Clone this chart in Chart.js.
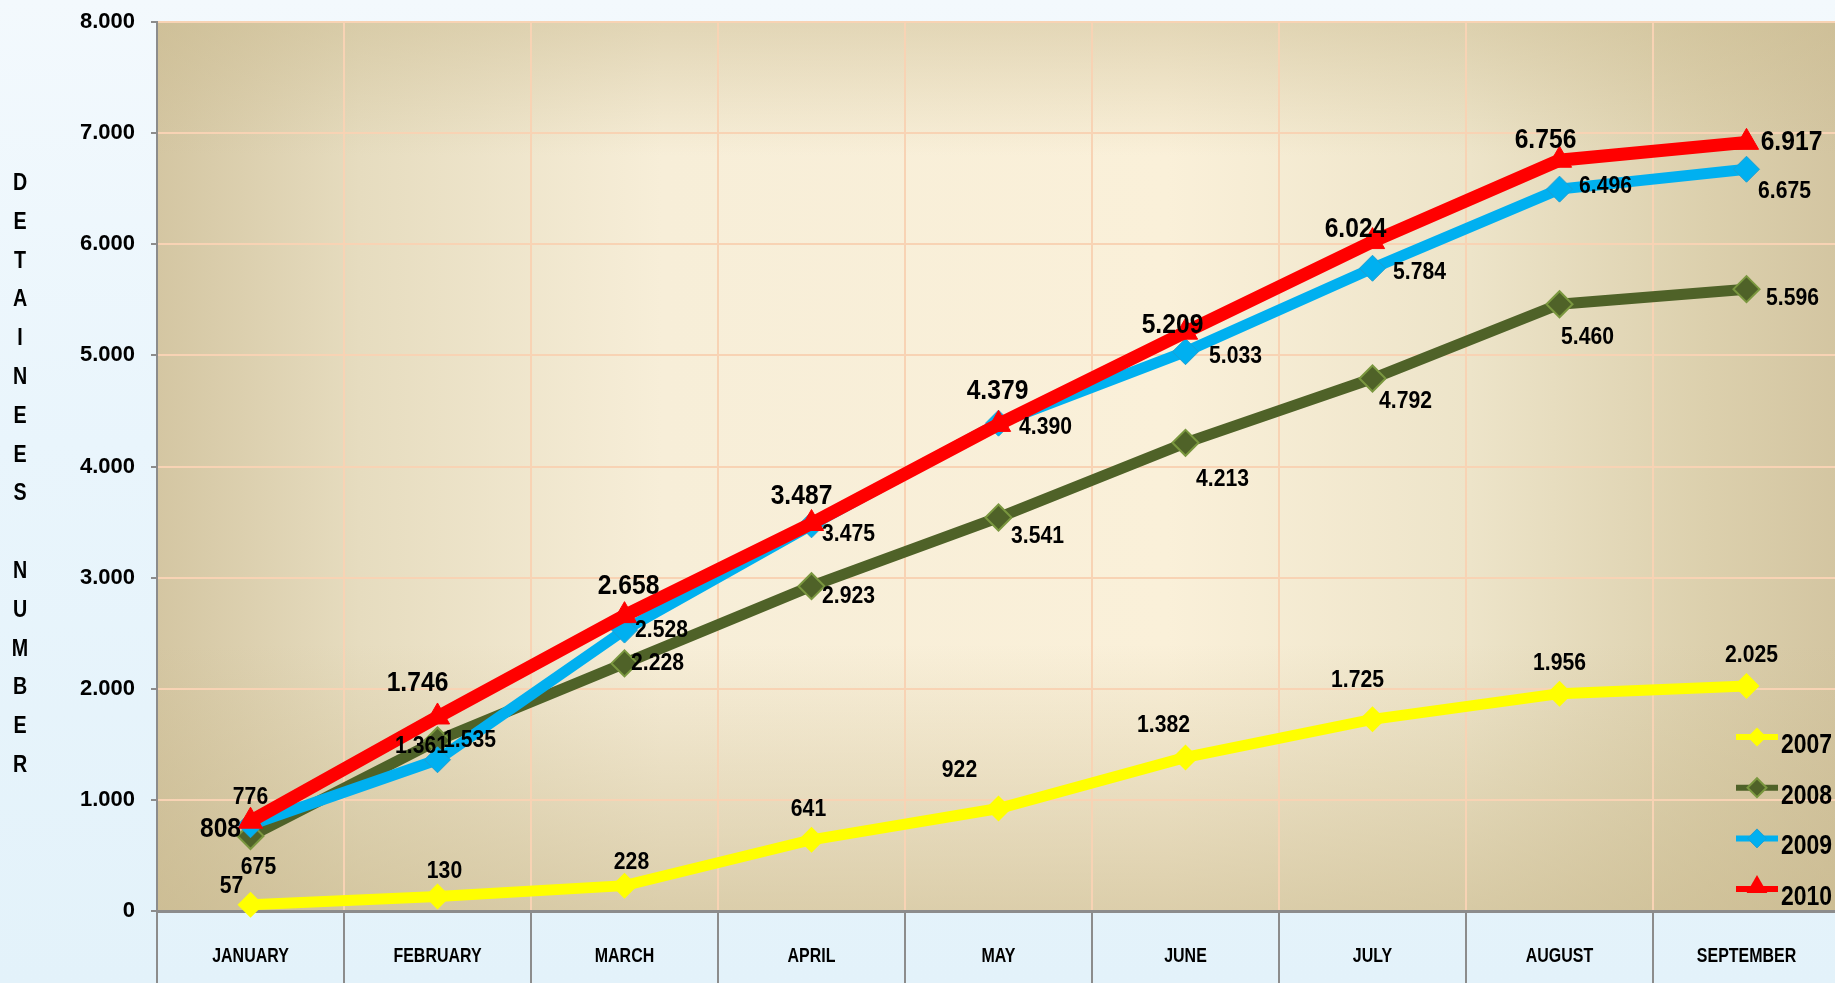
<!DOCTYPE html>
<html>
<head>
<meta charset="utf-8">
<title>Detainees number 2007-2010</title>
<script src="https://cdn.jsdelivr.net/npm/chart.js@4.4.1/dist/chart.umd.min.js"></script>
<style>
  html, body { margin: 0; padding: 0; overflow: hidden; }
  body { width: 1835px; height: 983px; background: linear-gradient(180deg, #f3f9fd 0%, #e9f5fc 45%, #e3f2fa 100%); }
  #wrap { position: relative; width: 1835px; height: 983px; overflow: hidden; }
  canvas { display: block; }
</style>
</head>
<body>
<div id="wrap"><canvas id="grafico" width="1841" height="983"></canvas></div>
<script>
// datos
const meses = ['JANUARY', 'FEBRUARY', 'MARCH', 'APRIL', 'MAY', 'JUNE', 'JULY', 'AUGUST', 'SEPTEMBER'];
const anios = ['2007', '2008', '2009', '2010'];
const serie2007 = [57, 130, 228, 641, 922, 1382, 1725, 1956, 2025];
const serie2008 = [675, 1535, 2228, 2923, 3541, 4213, 4792, 5460, 5596];
const serie2009 = [776, 1361, 2528, 3475, 4390, 5033, 5784, 6496, 6675];
const serie2010 = [808, 1746, 2658, 3487, 4379, 5209, 6024, 6756, 6917];
const yMin = 0, yMax = 8000, yPaso = 1000;
const tituloY = 'DETAINEES NUMBER';

// posición de cada etiqueta respecto a su punto [dx, dy]
const offs2007 = [[-19,-20],[7,-27],[7,-25],[-3,-32],[-39,-40],[-22,-34],[-15,-41],[0,-32],[5,-32]];
const offs2008 = [[8,30],[32,-2],[33,-2],[37,9],[39,17],[37,35],[33,21],[28,32],[46,8]];
const offs2009 = [[0,-29],[-16,-15],[37,-1],[37,8],[47,3],[50,3],[47,3],[46,-4],[38,21]];
const offs2010 = [[-30,6],[-20,-36],[4,-32],[-10,-30],[-1,-35],[-13,-9],[-17,-15],[-14,-22],[45,-2]];

const FUENTE = "'Liberation Sans', Arial, sans-serif";

function miles(v) {
  return String(v).replace(/\B(?=(\d{3})+(?!\d))/g, '.');
}

// texto centrado verticalmente en y, comprimido en x por sx
function texto(ctx, s, x, y, size, weight, sx, align) {
  ctx.save();
  ctx.translate(x, y);
  ctx.scale(sx, 1);
  ctx.font = weight + ' ' + size + 'px ' + FUENTE;
  ctx.textAlign = align || 'center';
  ctx.textBaseline = 'alphabetic';
  ctx.fillStyle = '#000';
  ctx.fillText(s, 0, size * 0.358);
  ctx.restore();
}

function rombo(ctx, x, y, r, fill, stroke, lw) {
  ctx.beginPath();
  ctx.moveTo(x - r, y); ctx.lineTo(x, y - r); ctx.lineTo(x + r, y); ctx.lineTo(x, y + r);
  ctx.closePath();
  ctx.fillStyle = fill; ctx.fill();
  if (lw) { ctx.strokeStyle = stroke; ctx.lineWidth = lw; ctx.stroke(); }
}

function triangulo(ctx, x, y, r, fill) {
  ctx.beginPath();
  ctx.moveTo(x, y - r);
  ctx.lineTo(x + r * 0.866, y + r * 0.5);
  ctx.lineTo(x - r * 0.866, y + r * 0.5);
  ctx.closePath();
  ctx.fillStyle = fill; ctx.fill();
}

const estilos = [
  { color: '#ffff00', borde: '#ffff00', ancho: 11, forma: 'rectRot', radio: 13, bw: 0, orden: 3, offs: offs2007, size: 23, weight: 'bold', sx: 0.92 },
  { color: '#4f6228', borde: '#7a973f', ancho: 11, forma: 'rectRot', radio: 13, bw: 2, orden: 2, offs: offs2008, size: 23, weight: 'bold', sx: 0.92 },
  { color: '#00b0f0', borde: '#1e9fd2', ancho: 11, forma: 'rectRot', radio: 13, bw: 1, orden: 1, offs: offs2009, size: 23, weight: 'bold', sx: 0.92 },
  { color: '#ff0000', borde: '#ff0000', ancho: 13, forma: 'triangle', radio: 14, bw: 1, orden: 0, offs: offs2010, size: 28, weight: 'bold', sx: 0.88 }
];
const series = [serie2007, serie2008, serie2009, serie2010];

// fondo del área de trazado
const fondo = {
  id: 'fondo',
  beforeDraw(chart) {
    const { ctx, chartArea: a } = chart;
    ctx.save();
    const g = ctx.createLinearGradient(a.left, 0, a.right, 0);
    g.addColorStop(0, '#d4c6a2');
    g.addColorStop(0.12, '#e6dcbf');
    g.addColorStop(0.3, '#f7eed8');
    g.addColorStop(0.6, '#faf0d9');
    g.addColorStop(0.78, '#ede4c9');
    g.addColorStop(0.92, '#dcd0ad');
    g.addColorStop(1, '#d3c5a1');
    ctx.fillStyle = g;
    ctx.fillRect(a.left, a.top, a.right - a.left, a.bottom - a.top);
    const v = ctx.createLinearGradient(0, a.top, 0, a.bottom);
    v.addColorStop(0, 'rgba(200,184,140,0.45)');
    v.addColorStop(0.15, 'rgba(200,184,140,0)');
    v.addColorStop(0.7, 'rgba(200,184,140,0)');
    v.addColorStop(1, 'rgba(200,184,140,0.6)');
    ctx.fillStyle = v;
    ctx.fillRect(a.left, a.top, a.right - a.left, a.bottom - a.top);
    ctx.restore();
  }
};

// etiquetas de datos, meses, título y leyenda
const adornos = {
  id: 'adornos',
  afterDatasetsDraw(chart) {
    const ctx = chart.ctx;
    chart.data.datasets.forEach((ds, i) => {
      const st = estilos[i];
      chart.getDatasetMeta(i).data.forEach((el, j) => {
        const o = st.offs[j];
        texto(ctx, miles(ds.data[j]), el.x + o[0], el.y + o[1], st.size, st.weight, st.sx);
      });
    });
  },
  afterDraw(chart) {
    const ctx = chart.ctx;
    const x = chart.scales.x;
    meses.forEach((m, i) => {
      texto(ctx, m, x.getPixelForValue(i), 954, 21, 'bold', 0.76);
    });
    tituloY.split('').forEach((c, i) => {
      if (c !== ' ') texto(ctx, c, 20, 181.5 + i * 38.8, 24, 'bold', 0.82);
    });
    anios.forEach((an, i) => {
      const st = estilos[i];
      const y = 737 + i * 50.7;
      ctx.save();
      ctx.strokeStyle = st.color;
      ctx.lineWidth = 6;
      ctx.beginPath(); ctx.moveTo(1736, y); ctx.lineTo(1778, y); ctx.stroke();
      if (st.forma === 'triangle') triangulo(ctx, 1757, y - 2, 12, st.color);
      else rombo(ctx, 1757, y, 9.5, st.color, st.borde, st.bw);
      ctx.restore();
      texto(ctx, an, 1781, y + 6, 28, 'bold', 0.82, 'left');
    });
  }
};

const ctx = document.getElementById('grafico').getContext('2d');
new Chart(ctx, {
  type: 'line',
  data: {
    labels: meses,
    datasets: series.map((d, i) => ({
      label: anios[i],
      data: d,
      borderColor: estilos[i].color,
      backgroundColor: estilos[i].color,
      borderWidth: estilos[i].ancho,
      pointStyle: estilos[i].forma,
      pointRadius: estilos[i].radio,
      pointHoverRadius: estilos[i].radio,
      pointBackgroundColor: estilos[i].color,
      pointBorderColor: estilos[i].borde,
      pointBorderWidth: estilos[i].bw,
      tension: 0,
      fill: false,
      clip: false,
      order: estilos[i].orden
    }))
  },
  options: {
    responsive: false,
    animation: false,
    layout: { autoPadding: false, padding: { top: 22, right: 1, left: 0, bottom: 0 } },
    plugins: { legend: { display: false }, tooltip: { enabled: false } },
    scales: {
      x: {
        offset: true,
        grid: { offset: true, color: '#f8d3b4', lineWidth: 2, tickColor: '#8c8c8c', tickLength: 72, tickWidth: 2 },
        border: { display: true, color: '#8c8c8c', width: 3 },
        ticks: { display: false },
        afterFit(s) { s.height = 72; s.paddingLeft = 0; s.paddingRight = 0; }
      },
      y: {
        min: yMin,
        max: yMax,
        ticks: {
          stepSize: yPaso,
          padding: 16,
          color: '#000',
          font: { family: FUENTE, size: 22, weight: 'bold' },
          callback: v => miles(v)
        },
        grid: { color: '#f8d3b4', lineWidth: 2, tickColor: '#8c8c8c', tickLength: 6 },
        border: { display: true, color: '#8c8c8c', width: 2 },
        afterFit(s) { s.width = 157; s.paddingTop = 0; s.paddingBottom = 0; }
      }
    }
  },
  plugins: [fondo, adornos]
});
</script>
</body>
</html>
